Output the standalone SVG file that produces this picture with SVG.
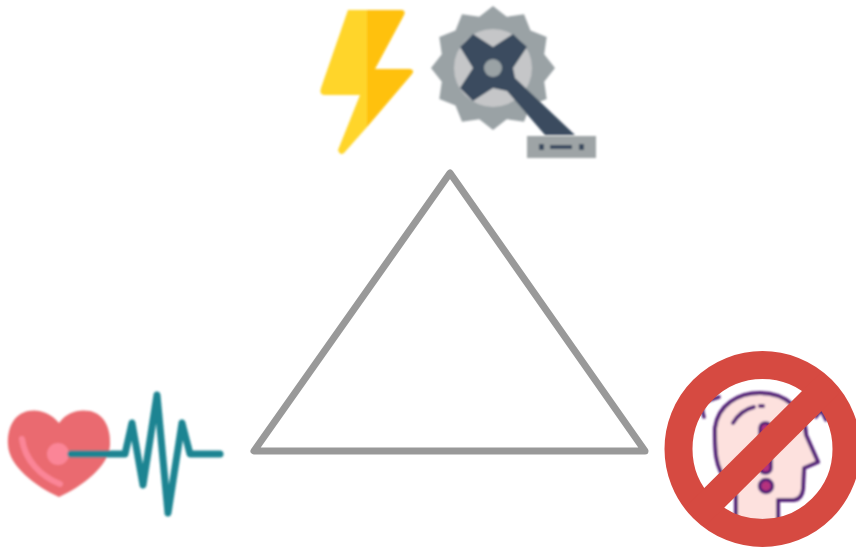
<svg xmlns="http://www.w3.org/2000/svg" width="856" height="548" viewBox="0 0 856 548">
<style>
.soft{stroke-linecap:round;stroke-linejoin:round;fill:none}
.pl{stroke:#522377}
</style>
<defs><filter id="b" x="-5%" y="-5%" width="110%" height="110%"><feGaussianBlur stdDeviation="0.9"/></filter>
<filter id="t" x="-5%" y="-5%" width="110%" height="110%"><feGaussianBlur stdDeviation="0.6"/></filter></defs>
<rect width="856" height="548" fill="#fff"/>
<g id="triangle" filter="url(#t)"><path d="M450 173L254 451H645Z" fill="none" stroke="#999" stroke-width="7" stroke-linejoin="round"/></g>
<g id="bolt" filter="url(#b)">
<path d="M348 10H367V127L344 153Q340 156 338 150L360 95H324Q319 94 321 88Z" fill="#ffd52b"/>
<path d="M367 10H402Q406 11 404 15L375 69H410Q415 70 412 74L367 127Z" fill="#ffc107"/>
</g>
<g id="crank" filter="url(#b)">
<path d="M493 6L506.700 16.800L524 14.300L530.500 30.500L546.700 37L544.200 54.300L555 68L544.200 81.700L546.700 99L530.500 105.500L524 121.700L506.700 119.200L493 130L479.300 119.200L462 121.700L455.500 105.500L439.300 99L441.800 81.700L431 68L441.800 54.300L439.300 37L455.500 30.500L462 14.300L479.300 16.800Z" fill="#9aa2a5"/>
<circle cx="493" cy="68" r="39" fill="#c5c6c8"/>
<path d="M460 47L473 34L493 47L513 34L527 47L513 68L515 78L575 135H545L507 91L493 88L473 101L460 88L473 68Z" fill="#3a4c5f"/>
<circle cx="493" cy="68" r="9" fill="#9aa2a5"/>
<rect x="527" y="136" width="69" height="22" fill="#9ea4a6"/>
<g fill="#3a4c5f"><rect x="539" y="144" width="5" height="6"/><rect x="550" y="145" width="22" height="4"/><rect x="579" y="144" width="5" height="6"/></g>
</g>
<g id="heart" filter="url(#b)">
<path d="M59 423C50 412 38 409 28 411C14 414 7 428 8 445C9 466 35 486 59 497C83 486 109 466 110 445C111 428 104 414 90 411C78 409 67 412 59 423Z" fill="#ea6b70"/>
<path d="M22 439C25 460 40 476 60 484" class="soft" stroke="#fb8597" stroke-width="6"/>
<circle cx="58" cy="454" r="11" fill="#fb8597"/>
<path d="M71 454H125L132 423L143 485L157 395L168 513L182 423L190 454H220" class="soft" stroke="#1f8492" stroke-width="7"/>
</g>
<g id="head" filter="url(#b)">
<path d="M727 480C714 468 715 445 715 428C718 405 738 393 760 393C786 393 805 410 806 435L818 462L804 468L803 489Q802 499 794 500H778V522H736V497Q735 487 727 480Z" fill="#fde1de" class="pl" stroke-width="4" stroke-linejoin="round"/>
<path d="M733 423Q741 410 754 407" class="soft pl" stroke-width="4"/>
<path d="M760 406H763" class="soft pl" stroke-width="4"/>
<path d="M704 417Q700 405 707 401L719 397" class="soft pl" stroke-width="3.500"/>
<path d="M816 417L821 410L826 420" class="soft pl" stroke-width="3.500"/>
<rect x="760" y="423" width="11" height="50" rx="5" fill="#b5307e" class="pl" stroke-width="3.500"/>
<circle cx="766" cy="486" r="6.500" fill="#b5307e" class="pl" stroke-width="3.500"/>
</g>
<g id="no-sign">
<circle cx="762.500" cy="449" r="84" fill="none" stroke="#d64a41" stroke-width="28"/>
<path d="M830 383L696 516" stroke="#d64a41" stroke-width="28" fill="none"/>
</g>
</svg>
